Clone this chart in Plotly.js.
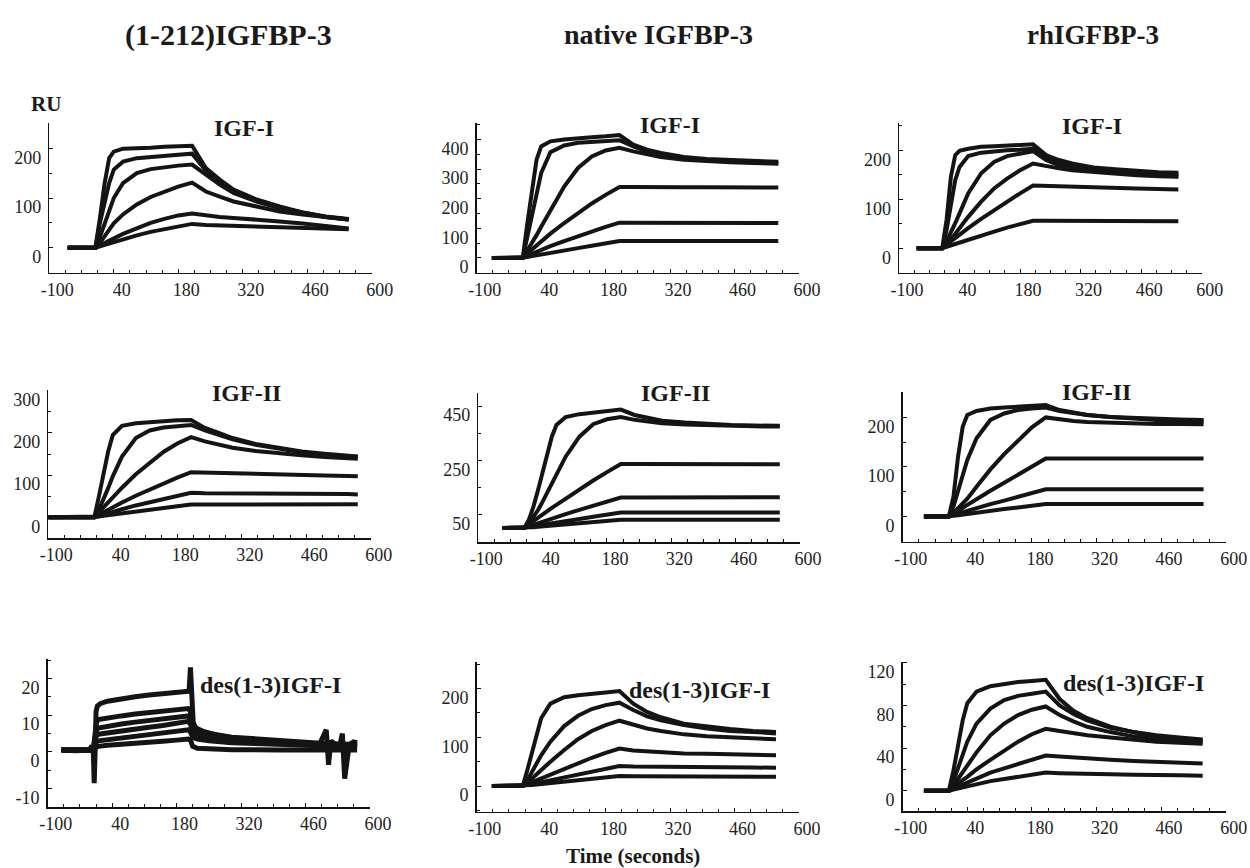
<!DOCTYPE html>
<html>
<head>
<meta charset="utf-8">
<script src="https://cdn.plot.ly/plotly-3.0.1.min.js"></script>
<style>html,body{margin:0;padding:0;background:#fff;}#chart{width:1250px;height:868px;}</style>
</head>
<body>
<div id="chart"></div>
<script>
// ---------- DATA (time in seconds, response in RU) ----------
const colTitles = ["(1-212)IGFBP-3", "native IGFBP-3", "rhIGFBP-3"];
const rowLabels = ["IGF-I", "IGF-II", "des(1-3)IGF-I"];
const xTickVals = [-100, 40, 180, 320, 460, 600];
const xTickText = ["-100", "40", "180", "320", "460", "600"];

// Panel 1: (1-212)IGFBP-3 / IGF-I
const time1 = [-60,0,10,20,30,40,60,90,120,150,180,210,240,270,300,350,400,450,500,550];
const p1c1 = [0,0,60,129,180,193,199,201,201,203,203,205,160,137,117,97,83,71,63,58];
const p1c2 = [0,0,50,90,130,157,173,180,183,185,187,189,155,133,114,95,81,70,62,57];
const p1c3 = [0,0,22,50,77,100,130,150,158,162,165,167,147,127,110,93,80,70,62,57];
const p1c4 = [0,0,10,23,37,49,67,87,102,113,123,131,113,103,93,83,73,67,61,57];
const p1c5 = [0,0,5,10,15,19,28,39,50,58,65,69,65,62,60,57,53,49,43,39];
const p1c6 = [0,0,3,6,9,12,17,25,32,38,44,48,46,45,44,43,41,40,39,37];
const yTicks1 = [0, 100, 200];

// Panel 2: native IGFBP-3 / IGF-I
const time2 = [-67,0,10,20,30,40,60,90,120,150,180,210,240,270,300,350,400,450,500,555];
const p2c1 = [0,0,117,230,332,377,394,400,405,408,411,415,383,366,355,341,334,330,326,325];
const p2c2 = [0,0,71,139,219,287,357,380,389,393,395,398,377,360,349,337,330,325,323,321];
const p2c3 = [0,0,26,49,77,105,162,241,304,343,363,372,360,349,341,332,326,323,321,318];
const p2c4 = [0,0,15,29,43,56,82,118,152,184,213,240,240,239,239,239,239,238,238,238];
const p2c5 = [0,0,7,14,21,28,40,57,74,90,105,119,119,119,119,119,119,119,118,118];
const p2c6 = [0,0,3,6,9,12,17,25,33,41,49,57,57,57,57,57,57,57,57,57];
const yTicks2 = [0, 100, 200, 300, 400];

// Panel 3: rhIGFBP-3 / IGF-I
const time3 = [-59,0,10,20,30,40,60,90,120,150,180,210,240,270,300,350,400,450,500,546];
const p3c1 = [0,0,58,146,190,199,203,207,208,209,211,212,190,180,173,165,161,157,155,154];
const p3c2 = [0,0,37,92,139,166,188,195,198,200,201,203,186,176,169,162,158,155,153,152];
const p3c3 = [0,0,14,31,51,71,112,153,176,188,193,198,180,169,164,158,154,151,149,147];
const p3c4 = [0,0,9,18,29,41,64,95,122,142,159,173,167,163,159,155,151,149,147,146];
const p3c5 = [0,0,7,14,21,28,41,60,78,95,112,128,127,126,125,124,123,122,121,120];
const p3c6 = [0,0,3,6,9,12,18,26,34,42,49,56,56,56,56,56,56,55,55,55];
const yTicks3 = [0, 100, 200];

// Panel 4: (1-212)IGFBP-3 / IGF-II
const time4 = [-100,0,10,20,30,40,60,90,120,150,180,210,240,270,300,350,400,450,500,550,572];
const p4c1 = [0,0,50,105,156,195,217,223,226,228,230,231,212,200,188,174,164,156,151,146,144];
const p4c2 = [0,0,18,42,69,97,144,188,206,213,216,219,206,196,185,172,162,154,148,144,143];
const p4c3 = [0,0,12,24,36,48,70,102,130,155,175,190,180,172,165,157,151,147,143,140,139];
const p4c4 = [0,0,6,12,18,24,35,51,66,80,94,107,106,105,104,103,101,100,99,98,97];
const p4c5 = [0,0,3,6.5,10,13,19,28,36,44,51,58,57,57,57,56,56,56,55,55,54];
const p4c6 = [0,0,2,3.5,5,6.5,10,14,18,22,26,30,30,30,30,30,31,31,31,31,31];
const yTicks4 = [0, 100, 200, 300];

// Panel 5: native IGFBP-3 / IGF-II
const time5 = [-47,0,10,20,30,40,50,60,70,90,120,150,180,210,240,270,300,350,400,450,500,556];
const p5c1 = [0,0,30,79,140,202,276,337,380,409,420,426,432,437,417,405,396,389,384,380,378,377];
const p5c2 = [0,0,17,39,66,97,130,165,200,263,337,383,401,409,399,391,386,382,379,377,375,374];
const p5c3 = [0,0,13,26,38,50,62,74,85,108,142,175,206,236,236,236,235,235,235,235,235,235];
const p5c4 = [0,0,6,12,18,24,29,35,40,51,67,83,98,112,112,112,112,112,112,113,113,113];
const p5c5 = [0,0,3,6,9,12,14,17,20,25,33,41,49,57,57,57,57,57,57,57,57,57];
const p5c6 = [0,0,1.5,3,4.5,6,7.5,9,10,13,17,21,25.5,30,30,30,30,30,30,30,30,30];
const yTicks5 = [50, 250, 450];

// Panel 6: rhIGFBP-3 / IGF-II
const time6 = [-54,0,10,20,30,40,60,90,120,150,180,210,240,270,300,350,400,450,500,552];
const p6c1 = [0,0,40,121,181,205,213,218,220,222,224,225,215,209,205,201,199,197,196,195];
const p6c2 = [0,0,20,53,84,114,158,195,208,215,218,220,213,209,205,201,197,195,193,192];
const p6c3 = [0,0,7,16,26,36,60,95,126,154,180,200,196,193,191,189,188,187,187,186];
const p6c4 = [0,0,6,12,18,24,35,52,68,84,101,117,117,117,117,117,117,117,117,117];
const p6c5 = [0,0,3,6,9,12,17,25,32,40,48,55,55,55,55,55,55,55,55,55];
const p6c6 = [0,0,1.3,2.6,4,5,7.5,11,15,18,22,25,25,25,25,25,25,25,25,25];
const yTicks6 = [0, 100, 200];

// Panel 7: (1-212)IGFBP-3 / des(1-3)IGF-I (noisy)
const time7a = [-70,-40,-10,-4,-1,1,3,5,8,15,30,60,90,120,150,180,200,207,210,213,216,222,240,270,300,350,400,450,490,505,510,515,525,535,540,545,555,564,572];
const p7c1 = [0.5,0.3,0.5,1.6,0.5,-8.5,0,11,12.5,13.2,13.8,14.5,15,15.5,15.8,16.2,16.3,16.5,23,12,8,6.5,5.5,4.5,3.8,3,2.6,2.3,2,6,-3.5,3,2,2,5,-7.3,2,2.7,2.5];
const time7 = [-70,-1,3,6,10,30,60,90,120,150,180,205,210,215,225,250,300,400,500,572];
const p7c2 = [0.5,0.5,5,8,8.8,9.3,9.8,10.3,10.7,11,11.4,11.8,11,7.5,6,5,4,3,2.3,2];
const p7c3 = [0.5,0.5,4,6,6.5,7,7.6,8.1,8.6,9,9.4,9.8,9,6.5,5.5,4.5,3.6,2.7,2.1,1.8];
const p7c4 = [0.5,0.5,3,4.5,4.8,5.2,5.7,6.2,6.7,7.2,7.8,8.3,7.6,5.5,4.8,4,3.2,2.4,1.8,1.6];
const p7c5 = [0.5,0.5,2,2.8,3,3.3,3.8,4.2,4.7,5.1,5.6,6,5.4,4,3.5,3,2.5,2,1.5,1.3];
const p7c6 = [0.5,0.5,1,1.4,1.5,1.8,2,2.3,2.6,2.9,3.2,3.5,3.2,1.5,1,0.8,0.6,0.5,0.5,0.5];
const yTicks7 = [-10, 0, 10, 20];

// Panel 8: native IGFBP-3 / des(1-3)IGF-I
const time8 = [-67,0,10,20,30,40,60,90,120,150,180,210,240,270,300,350,400,450,500,550];
const p8c1 = [0,0,33,70,108,139,169,182,186,190,192,195,169,152,141,128,122,117,113,111];
const p8c2 = [0,0,12,29,46,63,91,123,144,158,166,171,156,143,135,125,118,113,111,108];
const p8c3 = [0,0,7,16,25,33,50,74,96,113,125,134,125,118,113,106,102,100,98,96];
const p8c4 = [0,0,4,8,12,16,24,35,47,58,68,77,73,71,69,67,66,65,64,63];
const p8c5 = [0,0,2,4,6,8,12,18,24,30,36,41,40,40,39,39,38,38,38,37.5];
const p8c6 = [0,0,1,2,3,4,6,9,12,15,18,20.5,20,20,20,20,19.5,19.5,19,19];
const yTicks8 = [0, 100, 200];

// Panel 9: rhIGFBP-3 / des(1-3)IGF-I
const time9 = [-54,0,10,20,30,40,60,90,120,150,180,210,240,270,300,350,400,450,500,550];
const p9c1 = [0,0,19,44,66,82,93,98,100,102,103,104,86,75,68,60,55,52,50,48];
const p9c2 = [0,0,9,22,35,46,63,77,85,89,91,93,80,72,66,59,55,51,49,47];
const p9c3 = [0,0,5,11,18,24,36,52,63,71,76,79,71,65,60,55,51,49,47,46];
const p9c4 = [0,0,3,7,10,13,20,29,38,46,53,58,56,54,52,50,48,46,45,44];
const p9c5 = [0,0,2,4,6,8,12,17,21,25,29,33,32,31,30,29,28,27,26,25.5];
const p9c6 = [0,0,1,2,3,4,6,9,11,13,15,17,16.5,16,16,15.5,15,15,14.5,14];
const yTicks9 = [0, 40, 80, 120];

// ---------- LAYOUT / STYLE ----------
const W = 1250, H = 868;
const FONT = "Liberation Serif";

const panels = [
  {sets: [[time1,p1c1],[time1,p1c2],[time1,p1c3],[time1,p1c4],[time1,p1c5],[time1,p1c6]], yt: yTicks1,
   box: [49.3, 371.7, 123.3, 272.7], yr: [-50, 250], minor: 50},
  {sets: [[time2,p2c1],[time2,p2c2],[time2,p2c3],[time2,p2c4],[time2,p2c5],[time2,p2c6]], yt: yTicks2,
   box: [476.7, 799, 123.3, 272.7], yr: [-50, 455], minor: 50},
  {sets: [[time3,p3c1],[time3,p3c2],[time3,p3c3],[time3,p3c4],[time3,p3c5],[time3,p3c6]], yt: yTicks3,
   box: [899, 1201.7, 123.3, 272.7], yr: [-50, 255], minor: 50},
  {sets: [[time4,p4c1],[time4,p4c2],[time4,p4c3],[time4,p4c4],[time4,p4c5],[time4,p4c6]], yt: yTicks4,
   box: [48.3, 370.7, 390, 538.3], yr: [-50, 302], minor: 50},
  {sets: [[time5,p5c1],[time5,p5c2],[time5,p5c3],[time5,p5c4],[time5,p5c5],[time5,p5c6]], yt: yTicks5,
   box: [478.3, 800, 393.3, 542.3], yr: [-53, 497], minor: 100, minor0: 50},
  {sets: [[time6,p6c1],[time6,p6c2],[time6,p6c3],[time6,p6c4],[time6,p6c5],[time6,p6c6]], yt: yTicks6,
   box: [902.7, 1225.7, 391.7, 541.7], yr: [-51, 252], minor: 50},
  {sets: [[time7a,p7c1],[time7,p7c2],[time7,p7c3],[time7,p7c4],[time7,p7c5],[time7,p7c6]], yt: yTicks7,
   box: [47.7, 370, 659, 807.3], yr: [-15.1, 25.3], minor: 5, width: 5},
  {sets: [[time8,p8c1],[time8,p8c2],[time8,p8c3],[time8,p8c4],[time8,p8c5],[time8,p8c6]], yt: yTicks8,
   box: [476.7, 799, 661.7, 811.7], yr: [-52.6, 255], minor: 50},
  {sets: [[time9,p9c1],[time9,p9c2],[time9,p9c3],[time9,p9c4],[time9,p9c5],[time9,p9c6]], yt: yTicks9,
   box: [902.7, 1225.7, 661.7, 811], yr: [-19, 121], minor: 20}
];

const traces = [];
const layout = {
  width: W, height: H,
  margin: {l: 0, r: 0, t: 0, b: 0},
  paper_bgcolor: "#fff", plot_bgcolor: "rgba(0,0,0,0)",
  showlegend: false,
  font: {family: FONT, color: "#111", size: 17},
  annotations: []
};

panels.forEach((p, i) => {
  const n = i + 1;
  const xa = "x" + (n === 1 ? "" : n), ya = "y" + (n === 1 ? "" : n);
  p.sets.forEach(([t, v]) => {
    traces.push({
      type: "scatter", mode: "lines", x: t, y: v,
      xaxis: xa, yaxis: ya, hoverinfo: "skip",
      line: {color: "#141414", width: p.width || 4, shape: "linear"}
    });
  });
  const [l, r, tp, bt] = p.box;
  const common = {
    showgrid: false, zeroline: false, showline: true,
    linecolor: "#111", linewidth: 1.5,
    ticks: "inside", ticklen: 4, tickwidth: 1, tickcolor: "#111",
    tickfont: {family: FONT, size: 18, color: "#222"},
    fixedrange: true
  };
  layout["xaxis" + (n === 1 ? "" : n)] = Object.assign({}, common, {
    domain: [l / W, r / W], anchor: ya, range: [-100, 600],
    tickmode: "array", tickvals: xTickVals, ticktext: xTickText,
    ticklabelshift: 8, ticklabelstandoff: 0,
    minor: {tickmode: "linear", tick0: -100, dtick: 35, ticks: "inside", ticklen: 3, tickcolor: "#111", tickwidth: 1}
  });
  layout["yaxis" + (n === 1 ? "" : n)] = Object.assign({}, common, {
    domain: [1 - bt / H, 1 - tp / H], anchor: xa, range: p.yr,
    tickmode: "array", tickvals: p.yt, ticktext: p.yt.map(String),
    ticklabelshift: 9, ticklabelstandoff: 3,
    minor: {tickmode: "linear", tick0: p.minor0 !== undefined ? p.minor0 : 0, dtick: p.minor, ticks: "inside", ticklen: 3, tickcolor: "#111", tickwidth: 1}
  });
});

function ann(text, px, py, size) {
  layout.annotations.push({
    text: "<b>" + text + "</b>", xref: "paper", yref: "paper",
    x: px / W, y: 1 - py / H, xanchor: "center", yanchor: "middle",
    showarrow: false, font: {family: FONT, size: size, color: "#1a1a1a"}
  });
}
// column titles
ann(colTitles[0], 228, 35, 30);
ann(colTitles[1], 658, 35, 28);
ann(colTitles[2], 1093, 35, 27);
// panel labels
const labelPos = [
  [243.7, 128], [670, 125], [1091.7, 126],
  [246, 393], [675, 393], [1096.7, 392],
  [270.8, 685], [699, 690], [1133, 683]
];
labelPos.forEach((pos, i) => ann(rowLabels[Math.floor(i / 3)], pos[0], pos[1], 24));
ann("RU", 46, 104, 21);
ann("Time (seconds)", 633, 856, 21);

Plotly.newPlot("chart", traces, layout, {staticPlot: true, displayModeBar: false});
</script>
</body>
</html>
